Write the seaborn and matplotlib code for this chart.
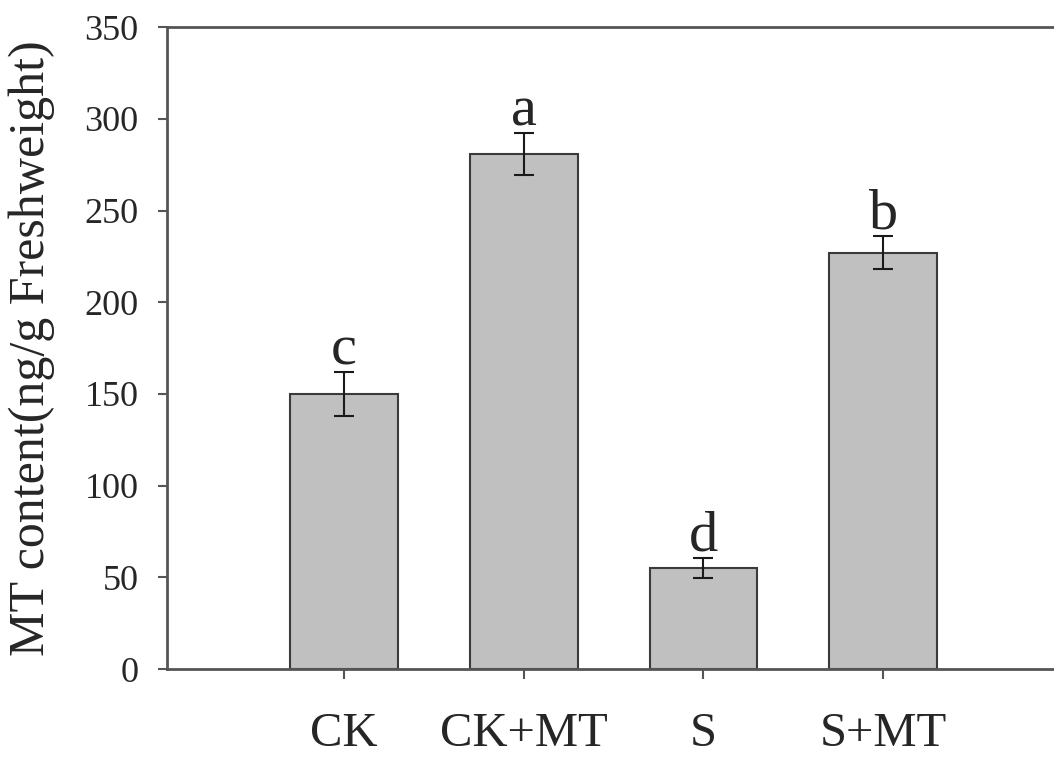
import matplotlib
matplotlib.use("Agg")
import matplotlib.pyplot as plt
import seaborn as sns
import pandas as pd

# Data
treatments = ["CK", "CK+MT", "S", "S+MT"]
mt_content = [150, 281, 55, 227]
mt_err = [12, 11.5, 5.5, 9]
sig_letters = ["c", "a", "d", "b"]
y_ticks = [0, 50, 100, 150, 200, 250, 300, 350]

df = pd.DataFrame({"treatment": treatments, "mt": mt_content})

sns.set_style("white")
plt.rcParams["font.family"] = ["Liberation Serif", "DejaVu Serif"]

fig = plt.figure(figsize=(10.54, 7.57), dpi=100)
ax = fig.add_axes([0.1584, 0.1162, 1 - 0.1584, 0.848])

sns.barplot(data=df, x="treatment", y="mt", color="#c0c0c0", width=0.6,
            edgecolor="#3a3a3a", linewidth=1.5, saturation=1, ax=ax)
for patch in ax.patches:
    patch.set_facecolor("#c0c0c0")

ax.errorbar(range(len(treatments)), mt_content, yerr=mt_err, fmt="none",
            ecolor="#1a1a1a", elinewidth=1.5, capsize=7.5, capthick=1.5, zorder=5)

# significance letters above error bars
for i, (val, err, letter) in enumerate(zip(mt_content, mt_err, sig_letters)):
    ax.text(i, val + err + 4, letter, ha="center", va="baseline", fontsize=42)

ax.set_xlim(-0.985, 3.95)
ax.set_ylim(0, 350)
ax.set_yticks(y_ticks)
ax.set_yticklabels([str(t) for t in y_ticks], fontsize=26)
ax.set_xticks(range(len(treatments)))
ax.set_xticklabels(treatments, fontsize=35)

ax.tick_params(axis="y", direction="out", length=6.5, width=1.5, color="#555555", pad=14, left=True)
ax.tick_params(axis="x", direction="out", length=7, width=1.5, color="#555555", pad=24, bottom=True)

ax.set_xlabel("")
ax.set_ylabel("MT content(ng/g Freshweight)", fontsize=36, labelpad=21)

for side in ["left", "top", "bottom"]:
    ax.spines[side].set_color("#555555")
    ax.spines[side].set_linewidth(2)
ax.spines["right"].set_visible(False)

fig.savefig("out.png", dpi=100)
